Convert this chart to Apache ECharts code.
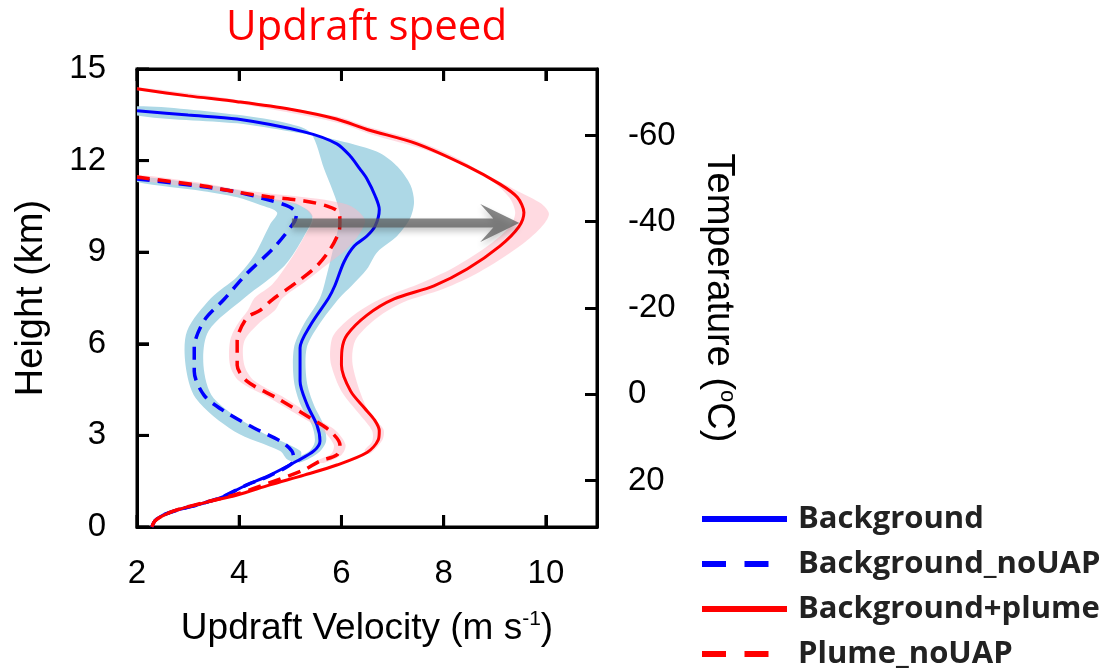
<!DOCTYPE html>
<html>
<head>
<meta charset="utf-8">
<script src="https://cdn.jsdelivr.net/npm/echarts@6/dist/echarts.min.js"></script>
<style>
  html, body { margin: 0; padding: 0; background: #ffffff; }
  #chart { width: 1107px; height: 671px; }
</style>
</head>
<body>
<div id="chart"></div>
<script>
// Mean updraft profiles, [velocity (m s-1), height (km)], listed from the top down
const background = [
  [2.0, 13.63], [3.0, 13.49], [3.96, 13.36], [5.27, 12.94], [5.91, 12.55], [6.17, 12.15],
  [6.36, 11.73], [6.5, 11.4], [6.66, 10.84], [6.74, 10.4], [6.66, 9.86], [6.5, 9.53],
  [6.25, 9.2], [6.05, 8.68], [5.87, 7.9], [5.75, 7.5], [5.39, 6.6], [5.19, 5.86],
  [5.19, 4.78], [5.33, 4.0], [5.52, 3.34], [5.58, 2.82], [5.46, 2.49], [5.13, 2.16],
  [4.6, 1.7], [4.15, 1.38], [3.62, 0.95], [3.17, 0.72], [2.78, 0.55], [2.5, 0.38],
  [2.35, 0.2], [2.29, 0.0]
];
const backgroundNoUAP = [
  [2.0, 11.4], [3.31, 11.14], [3.96, 10.97], [4.6, 10.7], [4.99, 10.48], [5.12, 10.25],
  [5.08, 10.0], [4.68, 9.15], [4.15, 8.3], [3.7, 7.45], [3.31, 6.75], [3.12, 5.86],
  [3.12, 5.1], [3.31, 4.32], [3.7, 3.8], [4.29, 3.24], [4.8, 2.82], [5.03, 2.49],
  [5.07, 2.2], [4.6, 1.68], [4.15, 1.38], [3.62, 0.95], [3.17, 0.72], [2.78, 0.55],
  [2.5, 0.38], [2.35, 0.2], [2.29, 0.0]
];
const backgroundPlume = [
  [2.0, 14.35], [3.0, 14.12], [3.96, 13.93], [5.0, 13.68], [5.9, 13.36], [6.5, 13.02],
  [7.48, 12.55], [8.46, 11.82], [9.1, 11.23], [9.44, 10.8], [9.57, 10.3], [9.47, 9.83],
  [9.1, 9.2], [8.46, 8.45], [7.81, 7.9], [7.03, 7.47], [6.5, 6.94], [6.11, 6.29],
  [6.01, 5.8], [6.0, 5.3], [6.18, 4.45], [6.45, 3.9], [6.65, 3.5], [6.74, 3.15],
  [6.72, 2.85], [6.5, 2.44], [5.91, 2.03], [5.27, 1.7], [4.6, 1.38], [3.96, 1.05],
  [3.31, 0.79], [2.78, 0.56], [2.53, 0.39], [2.35, 0.2], [2.29, 0.0]
];
const plumeNoUAP = [
  [2.0, 11.46], [3.31, 11.17], [3.96, 10.97], [4.6, 10.81], [5.27, 10.68], [5.72, 10.51],
  [5.95, 10.3], [5.97, 9.99], [5.95, 9.66], [5.78, 9.1], [5.52, 8.55], [5.13, 8.02],
  [4.65, 7.45], [4.41, 7.1], [4.15, 6.85], [3.96, 6.09], [3.96, 5.3], [4.15, 4.78],
  [4.74, 4.22], [5.39, 3.57], [5.78, 3.14], [5.97, 2.69], [5.91, 2.36], [5.58, 2.16],
  [5.27, 1.87], [4.6, 1.45], [3.96, 1.08], [3.31, 0.8], [2.78, 0.56], [2.53, 0.39],
  [2.35, 0.2], [2.29, 0.0]
];

// Ensemble spread of each profile: low-velocity edge and high-velocity edge
const backgroundSpreadLo = [
  [2.0, 13.78], [3.96, 13.5], [5.0, 13.2], [5.4, 12.9], [5.66, 11.73], [5.91, 10.64],
  [5.97, 10.1], [5.85, 9.2], [5.72, 8.3], [5.58, 7.5], [5.25, 6.6], [5.07, 5.86],
  [5.07, 4.78], [5.2, 4.0], [5.42, 3.34], [5.48, 2.82], [5.38, 2.5], [5.05, 2.18]
];
const backgroundSpreadHi = [
  [2.0, 13.48], [3.96, 13.22], [5.0, 12.95], [5.6, 12.78], [6.2, 12.55], [6.75, 12.25],
  [7.1, 11.8], [7.35, 11.2], [7.42, 10.64], [7.34, 10.1], [7.09, 9.53], [6.7, 9.0],
  [6.5, 8.45], [6.2, 7.9], [5.96, 7.5], [5.55, 6.6], [5.32, 5.86], [5.32, 4.78],
  [5.46, 4.0], [5.65, 3.34], [5.7, 2.82], [5.56, 2.45], [5.2, 2.12]
];
const backgroundNoUAPSpreadLo = [
  [2.0, 11.3], [3.3, 11.0], [3.96, 10.8], [4.4, 10.55], [4.74, 10.3], [4.6, 9.9],
  [4.29, 8.88], [3.96, 8.2], [3.45, 7.5], [2.98, 6.42], [2.95, 5.3], [3.15, 4.22],
  [3.9, 3.14], [4.8, 2.49], [4.95, 2.2]
];
const backgroundNoUAPSpreadHi = [
  [2.0, 11.47], [3.3, 11.22], [3.96, 11.04], [4.6, 10.77], [5.1, 10.6], [5.43, 10.2],
  [5.27, 9.53], [4.88, 8.55], [4.1, 7.5], [3.4, 6.42], [3.3, 5.3], [3.5, 4.22],
  [4.4, 3.14], [5.2, 2.49], [5.15, 2.15]
];
const backgroundPlumeSpreadLo = [
  [2.0, 14.4], [4.0, 13.98], [5.9, 13.45], [6.5, 13.12], [7.4, 12.7], [8.3, 12.05],
  [8.9, 11.4], [9.28, 10.8], [9.4, 10.3], [9.3, 9.85], [8.9, 9.25], [8.2, 8.5],
  [7.5, 7.95], [6.8, 7.5], [6.25, 6.95], [5.85, 6.3], [5.78, 5.8], [5.8, 5.3],
  [6.0, 4.45], [6.35, 3.7], [6.6, 3.15], [6.6, 2.8], [6.45, 2.5]
];
const backgroundPlumeSpreadHi = [
  [2.0, 14.3], [4.0, 13.86], [5.9, 13.25], [6.6, 12.85], [7.65, 12.35], [8.75, 11.6],
  [9.45, 11.0], [9.9, 10.6], [10.06, 10.25], [9.9, 9.8], [9.45, 9.15], [8.7, 8.35],
  [8.0, 7.8], [7.2, 7.35], [6.7, 6.85], [6.3, 6.2], [6.22, 5.8], [6.22, 5.3],
  [6.36, 4.45], [6.56, 3.7], [6.82, 3.2], [6.8, 2.85], [6.55, 2.4]
];
const plumeNoUAPSpreadLo = [
  [2.0, 11.38], [3.3, 11.08], [3.96, 10.88], [4.6, 10.7], [5.2, 10.52], [5.44, 10.1],
  [5.3, 9.6], [5.0, 8.75], [4.65, 7.95], [4.3, 7.5], [4.17, 7.1], [3.95, 6.6],
  [3.82, 6.09], [3.82, 5.3], [4.0, 4.78], [4.6, 4.22], [5.25, 3.57], [5.65, 3.14],
  [5.85, 2.69], [5.8, 2.4], [5.5, 2.15]
];
const plumeNoUAPSpreadHi = [
  [2.0, 11.53], [3.3, 11.26], [3.96, 11.06], [4.6, 10.92], [5.27, 10.8], [5.8, 10.68],
  [6.2, 10.5], [6.46, 10.06], [6.35, 9.6], [6.1, 9.1], [5.72, 8.6], [5.3, 8.05],
  [4.85, 7.5], [4.7, 7.1], [4.4, 6.7], [4.1, 6.09], [4.1, 5.3], [4.3, 4.78],
  [4.9, 4.22], [5.5, 3.57], [5.9, 3.14], [6.08, 2.69], [6.0, 2.36], [5.65, 2.1]
];

// Axis ranges and ticks
const velocityRange = [2, 11];
const heightRange = [0, 15];
const velocityTicks = [2, 4, 6, 8, 10];
const heightTicks = [0, 3, 6, 9, 12, 15];
const temperatureTicks = [-60, -40, -20, 0, 20];
// Temperature at the top (15 km) and at the bottom (0 km) of the plot
const temperatureAtTop = -75.4;
const temperatureAtBottom = 30.8;

// Arrow from the Background_noUAP peak to the Background+plume peak
const arrowFrom = [5.03, 9.96];
const arrowTo = [9.48, 9.96];

const BLUE = '#0000ff';
const RED = '#ff0000';
const BLUE_SPREAD = '#add8e6';
const PINK_SPREAD = 'rgba(255, 182, 196, 0.5)';
const AXIS_FONT = 'Liberation Sans, Arial, Helvetica, sans-serif';
const TICK_LEN = 12;

function spreadSeries(name, lo, hi, fill) {
  const outline = lo.concat(hi.slice().reverse());
  return {
    name: name,
    type: 'custom',
    coordinateSystem: 'cartesian2d',
    silent: true,
    clip: true,
    z: 1,
    data: [outline[0]],
    encode: { x: 0, y: 1 },
    renderItem: function (params, api) {
      return {
        type: 'polygon',
        shape: { points: outline.map(function (p) { return api.coord(p); }), smooth: 0.3 },
        style: { fill: fill }
      };
    }
  };
}

function profileSeries(name, data, color, dashed) {
  return {
    name: name,
    type: 'line',
    data: data,
    smooth: 0.3,
    symbol: 'none',
    silent: true,
    z: 3,
    itemStyle: { color: color },
    lineStyle: { color: color, width: dashed ? 3.5 : 3, type: dashed ? [13, 8] : 'solid' }
  };
}

const arrowSeries = {
  name: 'arrow',
  type: 'custom',
  coordinateSystem: 'cartesian2d',
  silent: true,
  z: 5,
  data: [[arrowFrom[0], arrowFrom[1], arrowTo[0], arrowTo[1]]],
  encode: { x: [0, 2], y: [1, 3] },
  renderItem: function (params, api) {
    const a = api.coord([api.value(0), api.value(1)]);
    const b = api.coord([api.value(2), api.value(3)]);
    const len = Math.hypot(b[0] - a[0], b[1] - a[1]);
    const ux = (b[0] - a[0]) / len, uy = (b[1] - a[1]) / len;
    const nx = -uy, ny = ux;
    const t = 4.5;      // half shaft thickness
    const hl = 39;      // head length
    const hw = 19;      // half head width
    const nd = 17;      // notch depth from the back corners
    const j = hl - nd + nd * t / hw;
    const P = function (along, across) {
      return [b[0] + ux * along + nx * across, b[1] + uy * along + ny * across];
    };
    const pts = [
      [a[0] + nx * t, a[1] + ny * t],
      P(-j, t), P(-hl, hw), P(0, 0), P(-hl, -hw), P(-j, -t),
      [a[0] - nx * t, a[1] - ny * t]
    ];
    return {
      type: 'polygon',
      shape: { points: pts },
      style: {
        fill: 'rgba(90, 90, 90, 0.72)',
        shadowBlur: 6,
        shadowOffsetY: 4,
        shadowColor: 'rgba(0, 0, 0, 0.3)'
      }
    };
  }
};

// Inward tick marks on the bottom, top and left sides of the frame
const frameTickSeries = {
  name: 'frame ticks',
  type: 'custom',
  coordinateSystem: 'cartesian2d',
  silent: true,
  clip: false,
  z: 6,
  data: [[velocityRange[0], heightRange[0]]],
  encode: { x: 0, y: 1 },
  renderItem: function (params, api) {
    const style = { stroke: '#000', lineWidth: 3 };
    const children = [];
    velocityTicks.forEach(function (v) {
      const b = api.coord([v, heightRange[0]]);
      const t = api.coord([v, heightRange[1]]);
      children.push({ type: 'line', shape: { x1: b[0], y1: b[1], x2: b[0], y2: b[1] - TICK_LEN }, style: style });
      children.push({ type: 'line', shape: { x1: t[0], y1: t[1], x2: t[0], y2: t[1] + TICK_LEN }, style: style });
    });
    heightTicks.forEach(function (h) {
      const l = api.coord([velocityRange[0], h]);
      children.push({ type: 'line', shape: { x1: l[0], y1: l[1], x2: l[0] + TICK_LEN, y2: l[1] }, style: style });
    });
    return { type: 'group', children: children };
  }
};

const frameLine = { show: true, onZero: false, lineStyle: { color: '#000', width: 3 } };
const labelStyle = { fontFamily: AXIS_FONT, fontSize: 33, color: '#000' };
function ticksAt(values) {
  return { show: true, inside: true, length: TICK_LEN, customValues: values, lineStyle: { color: '#000', width: 3 } };
}
function nameStyle(size) {
  return {
    fontFamily: AXIS_FONT, fontSize: size, color: '#000',
    rich: { sup: { fontFamily: AXIS_FONT, fontSize: Math.round(size * 0.57), color: '#000', padding: [0, 0, 18, 0] } }
  };
}

const chart = echarts.init(document.getElementById('chart'), null, { renderer: 'canvas' });
chart.setOption({
  animation: false,
  backgroundColor: '#ffffff',
  title: {
    text: 'Updraft speed',
    left: 226,
    top: 7,
    padding: 0,
    textStyle: { fontFamily: 'Open Sans', fontWeight: 'normal', fontSize: 42, color: RED }
  },
  grid: {
    left: 137, right: 510, top: 69, bottom: 144,
    show: true, borderColor: '#000', borderWidth: 3, backgroundColor: 'transparent'
  },
  legend: {
    orient: 'vertical',
    left: 699,
    top: 503,
    padding: 0,
    itemWidth: 85,
    itemHeight: 14,
    itemGap: 13,
    selectedMode: false,
    itemStyle: { opacity: 0 },
    lineStyle: { width: 6 },
    textStyle: {
      fontFamily: 'Open Sans', fontWeight: 'bold', fontSize: 31, color: '#222',
      lineHeight: 32, padding: [0, 0, 0, 6]
    },
    data: [
      { name: 'Background' },
      { name: 'Background_noUAP', lineStyle: { type: [24, 18.5], width: 6 } },
      { name: 'Background+plume' },
      { name: 'Plume_noUAP', lineStyle: { type: [24, 18.5], width: 6 } }
    ]
  },
  xAxis: [
    {
      type: 'value', position: 'bottom', min: velocityRange[0], max: velocityRange[1],
      axisLine: frameLine,
      axisTick: ticksAt(velocityTicks),
      axisLabel: Object.assign({ margin: 30, customValues: velocityTicks }, labelStyle),
      splitLine: { show: false },
      name: 'Updraft Velocity (m s{sup|-1})',
      nameLocation: 'middle', nameGap: 82, nameTextStyle: nameStyle(37)
    },
    {
      type: 'value', position: 'top', min: velocityRange[0], max: velocityRange[1],
      axisLine: frameLine,
      axisTick: ticksAt(velocityTicks),
      axisLabel: { show: false },
      splitLine: { show: false }
    }
  ],
  yAxis: [
    {
      type: 'value', position: 'left', min: heightRange[0], max: heightRange[1],
      axisLine: frameLine,
      axisTick: ticksAt(heightTicks),
      axisLabel: Object.assign({ margin: 31, customValues: heightTicks }, labelStyle),
      splitLine: { show: false },
      name: 'Height (km)',
      nameLocation: 'middle', nameRotate: 90, nameGap: 86, nameTextStyle: nameStyle(38)
    },
    {
      type: 'value', position: 'right', inverse: true,
      min: temperatureAtTop, max: temperatureAtBottom,
      axisLine: frameLine,
      axisTick: ticksAt(temperatureTicks),
      axisLabel: Object.assign({ margin: 31, customValues: temperatureTicks }, labelStyle),
      splitLine: { show: false },
      name: 'Temperature ({sup|o}C)',
      nameLocation: 'middle', nameRotate: -90, nameGap: 101, nameTextStyle: nameStyle(38)
    }
  ],
  series: [
    spreadSeries('Background spread', backgroundSpreadLo, backgroundSpreadHi, BLUE_SPREAD),
    spreadSeries('Background_noUAP spread', backgroundNoUAPSpreadLo, backgroundNoUAPSpreadHi, BLUE_SPREAD),
    spreadSeries('Background+plume spread', backgroundPlumeSpreadLo, backgroundPlumeSpreadHi, PINK_SPREAD),
    spreadSeries('Plume_noUAP spread', plumeNoUAPSpreadLo, plumeNoUAPSpreadHi, PINK_SPREAD),
    profileSeries('Background', background, BLUE, false),
    profileSeries('Background_noUAP', backgroundNoUAP, BLUE, true),
    profileSeries('Background+plume', backgroundPlume, RED, false),
    profileSeries('Plume_noUAP', plumeNoUAP, RED, true),
    arrowSeries,
    frameTickSeries
  ]
});
</script>
</body>
</html>
